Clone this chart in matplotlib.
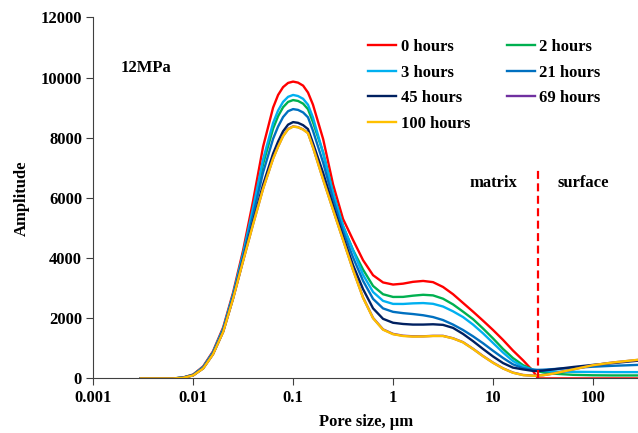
import numpy as np
import matplotlib
matplotlib.use('Agg')
import matplotlib.pyplot as plt
from matplotlib.ticker import FixedLocator, FuncFormatter

plt.rcParams['font.family'] = ['Liberation Serif', 'DejaVu Serif']
plt.rcParams['font.weight'] = 'bold'
plt.rcParams['font.size'] = 12

# pore size (um)
pore = [0.003, 0.0063, 0.0079, 0.01, 0.0126, 0.0158, 0.02, 0.0251, 0.0316, 0.0398,
        0.0501, 0.0631, 0.0708, 0.0794, 0.0891, 0.1, 0.112, 0.126, 0.141, 0.158,
        0.2, 0.251, 0.316, 0.398, 0.501, 0.631, 0.794, 1,
        1.26, 1.58, 2, 2.51, 3.16, 3.98, 5.01, 6.31, 7.94, 10,
        12.6, 15.8, 20, 25.1, 28.2, 31.6, 39.8, 63.1, 100, 158, 282]

h0 = [0, 0, 30, 130, 400, 900, 1700, 2850, 4250, 5900,
      7700, 9000, 9420, 9680, 9820, 9864, 9830, 9730, 9500, 9100,
      7950, 6450, 5300, 4600, 3930, 3430, 3190, 3120,
      3150, 3210, 3240, 3200, 3040, 2800, 2510, 2220, 1920, 1610,
      1280, 930, 600, 250, 0, 0, 0, 0, 0, 0, 0]
h2 = [0, 0, 26, 118, 371, 859, 1639, 2768, 4107, 5580,
      7126, 8303, 8715, 9012, 9189, 9250, 9221, 9131, 8947, 8518,
      7505, 6170, 5069, 4270, 3618, 3073, 2798, 2708,
      2710, 2750, 2780, 2760, 2650, 2460, 2220, 1970, 1660, 1330,
      980, 680, 440, 290, 240, 200, 160, 120, 105, 100, 100]
h3 = [0, 0, 27, 121, 379, 870, 1655, 2790, 4145, 5666,
      7280, 8490, 8904, 9191, 9358, 9420, 9385, 9292, 9095, 8674,
      7484, 6157, 5059, 4255, 3443, 2872, 2578, 2477,
      2475, 2495, 2505, 2480, 2390, 2230, 2040, 1790, 1500, 1180,
      860, 580, 390, 290, 270, 250, 230, 220, 215, 210, 210]
h21 = [0, 0, 24, 112, 357, 839, 1609, 2728, 4037, 5424,
       6846, 7963, 8371, 8686, 8881, 8950, 8924, 8839, 8677, 8234,
       7167, 5957, 4894, 4020, 3243, 2644, 2327, 2213,
       2170, 2140, 2100, 2040, 1940, 1790, 1610, 1400, 1170, 920,
       680, 470, 340, 290, 285, 290, 310, 350, 390, 420, 450]
h45 = [0, 0, 21, 103, 337, 810, 1565, 2670, 3935, 5198,
       6440, 7470, 7872, 8213, 8434, 8518, 8494, 8416, 8285, 7822,
       6823, 5740, 4716, 3765, 2968, 2329, 1981, 1850,
       1810, 1790, 1790, 1800, 1780, 1680, 1480, 1240, 980, 730,
       510, 360, 300, 250, 250, 260, 300, 380, 450, 510, 590]
h69 = [0, 0, 20, 100, 335, 805, 1555, 2655, 3905, 5130,
       6310, 7310, 7710, 8060, 8290, 8375, 8350, 8275, 8155, 7690,
       6610, 5610, 4610, 3610, 2690, 2010, 1630, 1480,
       1420, 1400, 1400, 1415, 1415, 1335, 1205, 985, 745, 525,
       335, 195, 115, 92, 97, 107, 160, 300, 440, 530, 615]
h100 = [0, 0, 20, 100, 330, 800, 1550, 2650, 3900, 5120,
        6300, 7300, 7700, 8050, 8280, 8368, 8345, 8270, 8150, 7680,
        6600, 5600, 4600, 3600, 2680, 2000, 1620, 1470,
        1410, 1390, 1395, 1410, 1410, 1330, 1200, 980, 740, 520,
        330, 190, 110, 90, 95, 105, 160, 300, 440, 530, 620]

series = [('0 hours', h0, '#ff0000'),
          ('2 hours', h2, '#00b050'),
          ('3 hours', h3, '#00b0f0'),
          ('21 hours', h21, '#0070c0'),
          ('45 hours', h45, '#002060'),
          ('69 hours', h69, '#7030a0'),
          ('100 hours', h100, '#ffc000')]

boundary = 28  # matrix / surface split, um

fig = plt.figure(figsize=(6.38, 4.33), dpi=100)
ax = fig.add_axes([0.146, 0.126, 0.854, 0.834])

lines = []
for name, vals, col in series:
    ln, = ax.plot(pore, vals, color=col, lw=1.7, label=name)
    lines.append(ln)

ax.plot([boundary, boundary], [0, 7000], color='#ff0000', lw=1.6, ls=(0, (3.6, 2)))

ax.set_xscale('log')
ax.set_xlim(0.001, 282)
ax.set_ylim(0, 12000)
ax.xaxis.set_major_locator(FixedLocator([0.001, 0.01, 0.1, 1, 10, 100]))
ax.xaxis.set_minor_locator(FixedLocator([]))
ax.xaxis.set_major_formatter(FuncFormatter(lambda v, p: '%g' % v))
ax.set_yticks(np.arange(0, 12001, 2000))

for s in ['top', 'right']:
    ax.spines[s].set_visible(False)
ax.spines['left'].set_color('#404040')
ax.spines['bottom'].set_color('#404040')
ax.tick_params(direction='out', length=5, color='#404040', pad=3)

ax.set_xlabel('Pore size, μm', fontweight='bold', labelpad=6)
ax.set_ylabel('Amplitude', fontweight='bold', labelpad=8)

ax.text(0.0019, 10300, '12MPa', ha='left', va='center', fontweight='bold')
ax.text(10, 6500, 'matrix', ha='center', va='center', fontweight='bold')
ax.text(80, 6500, 'surface', ha='center', va='center', fontweight='bold')

# legend filled row by row like the original
order = [0, 2, 4, 6, 1, 3, 5]
ax.legend([lines[i] for i in order], [series[i][0] for i in order],
          loc='upper left', bbox_to_anchor=(0.577, 0.91), bbox_transform=fig.transFigure,
          ncol=2, frameon=False, handlelength=1.7, handletextpad=0.25,
          columnspacing=2.2, labelspacing=0.58, borderpad=0, borderaxespad=0)

fig.savefig('out.png', dpi=100)
